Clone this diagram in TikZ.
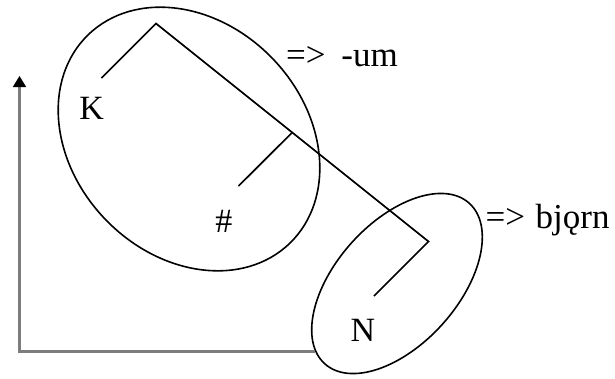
\documentclass[tikz,border=0pt]{standalone}
\usepackage{fontspec}
\setmainfont{Liberation Serif}
\usetikzlibrary{arrows.meta,calc}
\definecolor{axisgray}{RGB}{125,125,125}
\tikzset{
  treeline/.style={line width=1.7pt, black},
  ringline/.style={line width=1.6pt, black},
  axisline/.style={line width=3.2pt, axisgray},
  lab/.style={inner sep=0pt, anchor=base, font=\fontsize{34}{38}\selectfont},
  arrlab/.style={inner sep=0pt, anchor=base west, font=\fontsize{35}{40}\selectfont},
}
\begin{document}
\begin{tikzpicture}[x=1pt, y=-1pt]
\useasboundingbox (0,0) rectangle (615,378);
% ellipses
\draw[ringline, rotate around={-46:(189,139)}] (189,139) ellipse [x radius=145pt, y radius=116pt];
\draw[ringline, rotate around={48:(397,283.5)}] (397,283.5) ellipse [x radius=108pt, y radius=61pt];
% tree
\coordinate (apex) at (156,23.5);
\coordinate (kend) at (101.5,78);
\coordinate (nvert) at (428.5,241.5);
\coordinate (mid) at ($(apex)!0.5!(nvert)$);
\coordinate (hashend) at (238.5,186);
\coordinate (nend) at (374,296);
\draw[treeline, line join=miter] (kend) -- (apex) -- (nvert) -- (nend);
\draw[treeline] (mid) -- (hashend);
% labels
\node[lab] (K) at (91.7,119.3) {K};
\node[lab] (hash) at (223.8,232.7) {\#};
\node[lab] (N) at (363,341.7) {N};
\node[arrlab] (um) at (286,66.7) {=>\hspace{0.45em}-um};
\node[arrlab] (bjorn) at (485.5,228.3) {=>\hspace{0.3em}bjǫrn};
% axis
\coordinate (origin) at (19.5,351.5);
\coordinate (ytop) at (19.5,76);
\coordinate (xend) at (313,351.5);
\draw[axisline] (origin) -- ($(ytop)+(0,9)$);
\fill[black] ($(ytop)+(-6.7,11)$) -- (ytop) -- ($(ytop)+(6.7,11)$) -- cycle;
\draw[axisline, line cap=rect] (origin) -- (xend);
\end{tikzpicture}
\end{document}
